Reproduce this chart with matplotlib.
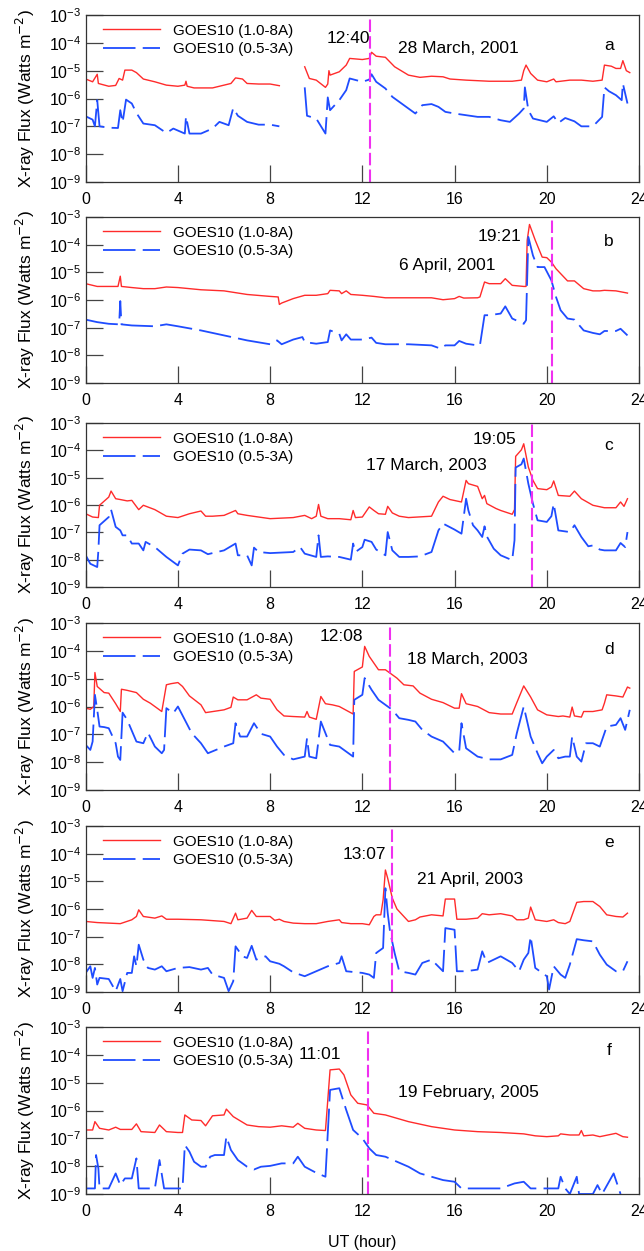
import numpy as np
import matplotlib.pyplot as plt
from matplotlib.ticker import NullLocator

plt.rcParams['font.family'] = ['Liberation Sans', 'DejaVu Sans']

# GOES10 X-ray flux, log10(W m^-2)
# nan marks a data gap

# panel a - 28 March 2001
a_t_long = [0.0, 0.3, 0.5, 0.55, 1.0, 1.3, 1.45, 1.6, 1.7, 2.0, 2.2, 2.5, 3.0, 3.5, 4.0, 4.3, 4.35, 4.4, 4.7, 5.5,
            6.0, 6.3, 6.5, 6.8, 7.0, 7.5, 8.0, 8.4, 8.9, 9.5, 9.7, 10.0, 10.4, 10.5, 10.55, 10.6, 11.0, 11.3, 11.45, 12.0,
            12.3, 12.4, 12.6, 13.0, 13.4, 14.0, 14.5, 15.0, 15.5, 15.8, 16.5, 17.5, 18.5, 18.9, 19.0, 19.1, 19.3, 19.6,
            20.0, 20.3, 20.4, 21.0, 21.5, 22.0, 22.4, 22.5, 22.8, 23.0, 23.2, 23.3, 23.45, 23.6]
a_long = [-5.30, -5.40, -5.13, -5.46, -5.56, -5.53, -5.28, -5.34, -4.98, -4.98, -5.07, -5.30, -5.40, -5.52, -5.56,
          -5.52, -5.38, -5.56, -5.62, -5.62, -5.52, -5.46, -5.26, -5.30, -5.46, -5.48, -5.48, -5.54, np.nan, -4.86,
          -5.28, -5.34, -5.60, -5.48, -5.00, -5.16, -5.04, -4.80, -4.56, -4.60, -4.56, -4.34, -4.48, -4.52, -4.86,
          -5.16, -5.24, -5.20, -5.22, -5.30, -5.34, -5.38, -5.38, -5.34, -5.00, -4.80, -5.10, -5.34, -5.40, -5.30,
          -5.40, -5.34, -5.34, -5.38, -5.34, -4.80, -4.84, -4.92, -4.92, -4.64, -5.00, -5.07]
a_t_short = [0.0, 0.3, 0.4, 0.5, 0.6, 1.0, 1.4, 1.5, 1.6, 1.75, 2.0, 2.2, 2.5, 3.0, 3.5, 3.8, 4.3, 4.35, 4.5, 5.0,
             5.5, 5.8, 6.2, 6.4, 6.6, 7.0, 7.5, 8.0, 8.4, 8.9, 9.5, 9.6, 10.0, 10.4, 10.5, 10.6, 11.0, 11.3, 11.45,
             12.0, 12.3, 12.4, 12.6, 13.0, 13.3, 13.6, 14.0, 14.3, 14.6, 15.0, 15.3, 15.6, 16.0, 16.5, 17.0, 17.5,
             18.0, 18.4, 18.8, 19.0, 19.05, 19.2, 19.4, 20.0, 20.3, 20.5, 20.8, 21.2, 21.5, 22.0, 22.4, 22.5, 22.7,
             23.0, 23.25, 23.3, 23.5]
a_short = [-6.64, -6.76, -7.00, -6.06, -7.00, -7.05, -7.06, -6.42, -6.86, -6.04, -6.18, -6.52, -6.90, -6.96, -7.24,
           -7.08, -7.26, -6.64, -7.26, -7.26, -7.08, -6.84, -6.96, -6.34, -6.62, -6.84, -6.94, -6.94, -7.00, np.nan,
           -5.60, -6.62, -6.72, -7.26, -5.96, -6.42, -6.06, -5.70, -5.28, -5.40, -5.32, -5.13, -5.40, -5.64, -5.94,
           -6.12, -6.36, -6.54, -6.24, -6.20, -6.30, -6.48, -6.54, -6.60, -6.66, -6.66, -6.78, -6.84, -6.54, -6.36,
           -5.60, -6.42, -6.72, -6.84, -6.64, -6.88, -6.70, -6.82, -7.00, -7.00, -6.66, -5.60, -5.74, -5.88, -6.06,
           -5.46, -6.18]

# panel b - 6 April 2001
b_t_long = [0.0, 0.5, 1.0, 1.4, 1.5, 1.55, 2.0, 2.5, 3.0, 3.5, 4.0, 5.0, 6.0, 7.0, 8.0, 8.35, 8.4, 8.5, 9.0, 9.5,
            10.0, 10.5, 10.6, 11.0, 11.1, 11.3, 11.5, 12.0, 12.5, 13.0, 14.0, 15.0, 15.5, 16.0, 16.2, 16.4, 17.0, 17.1,
            17.3, 17.5, 18.0, 18.2, 18.5, 19.0, 19.1, 19.15, 19.25, 19.5, 19.8, 20.0, 20.2, 20.4, 20.9, 21.2, 21.6,
            22.0, 22.3, 22.5, 23.0, 23.5]
b_long = [-5.41, -5.51, -5.51, -5.51, -5.14, -5.51, -5.55, -5.59, -5.59, -5.53, -5.55, -5.63, -5.67, -5.80, -5.87,
          -5.89, -6.16, -6.11, -5.95, -5.83, -5.83, -5.77, -5.65, -5.67, -5.77, -5.67, -5.80, -5.83, -5.87, -5.92,
          -5.92, -5.92, -5.99, -5.95, -5.87, -5.93, -5.92, -5.89, -5.35, -5.41, -5.41, -5.23, -5.47, -5.51, -5.51,
          -3.84, -3.27, -3.84, -4.45, -4.47, -4.63, -4.87, -5.31, -5.31, -5.59, -5.67, -5.67, -5.65, -5.67, -5.75]
b_t_short = [0.0, 0.5, 1.0, 1.45, 1.5, 1.55, 2.0, 3.0, 3.5, 4.0, 5.0, 6.0, 7.0, 8.0, 8.3, 8.5, 9.0, 9.4, 9.5, 10.0,
             10.5, 10.6, 11.0, 11.1, 11.3, 11.5, 12.0, 12.4, 12.6, 13.0, 14.0, 15.0, 15.4, 15.6, 16.0, 16.2, 16.5,
             17.0, 17.1, 17.3, 17.5, 18.0, 18.2, 18.5, 19.0, 19.1, 19.2, 19.4, 19.6, 19.9, 20.2, 20.4, 20.6, 20.9,
             21.2, 21.6, 22.0, 22.3, 22.5, 23.0, 23.2, 23.5]
b_short = [-6.71, -6.80, -6.86, -6.88, -6.04, -6.88, -6.92, -6.95, -6.88, -6.95, -7.10, -7.28, -7.46, -7.60, -7.46,
           -7.60, -7.43, -7.34, -7.52, -7.58, -7.52, -7.10, -7.22, -7.46, -7.24, -7.43, -7.43, -7.36, -7.55, -7.60,
           -7.60, -7.64, -7.76, -7.64, -7.64, -7.48, -7.58, -7.64, -7.64, -6.55, -6.55, -6.49, -6.23, -6.67, -6.86,
           -6.73, -3.72, -4.39, -4.81, -4.81, -5.29, -5.89, -6.37, -6.67, -6.71, -7.10, -7.19, -7.24, -7.12, -7.12,
           -7.04, -7.28]

# panel c - 17 March 2003
c_t_long = [0.0, 0.3, 0.55, 0.6, 1.0, 1.1, 1.3, 1.5, 1.8, 2.0, 2.3, 2.5, 3.0, 3.5, 4.0, 4.5, 5.0, 5.2, 5.5, 6.0,
            6.5, 6.6, 7.0, 7.5, 8.0, 9.0, 9.5, 9.8, 10.0, 10.1, 10.2, 10.5, 11.0, 11.5, 11.6, 11.7, 12.0, 12.3, 12.5,
            12.7, 13.0, 13.1, 13.3, 13.6, 14.0, 15.0, 15.3, 15.5, 15.8, 16.3, 16.5, 16.6, 17.0, 17.2, 17.3, 17.4,
            17.8, 18.0, 18.5, 18.6, 18.65, 18.9, 19.0, 19.2, 19.4, 19.6, 20.0, 20.2, 20.3, 20.5, 21.0, 21.2, 21.5,
            22.0, 22.5, 23.0, 23.2, 23.35, 23.5]
c_long = [-6.32, -6.44, -6.46, -6.01, -5.71, -5.49, -5.77, -5.80, -5.85, -5.83, -6.17, -6.01, -6.17, -6.41, -6.46,
          -6.32, -6.22, -6.41, -6.41, -6.38, -6.20, -6.32, -6.38, -6.44, -6.50, -6.46, -6.38, -6.50, -6.41, -5.98,
          -6.41, -6.50, -6.50, -6.54, -6.20, -6.46, -6.44, -6.07, -6.20, -6.32, -6.34, -6.05, -6.29, -6.41, -6.46,
          -6.41, -5.89, -5.68, -5.80, -5.89, -5.10, -5.22, -5.32, -5.77, -5.65, -5.95, -6.13, -6.20, -6.34, -6.17,
          -4.22, -3.98, -3.76, -4.61, -5.10, -5.40, -5.44, -5.34, -5.12, -5.65, -5.68, -5.49, -5.77, -6.01, -6.10,
          -6.10, -5.89, -6.05, -5.77]
c_t_short = [0.0, 0.2, 0.5, 0.55, 0.6, 1.0, 1.1, 1.3, 1.5, 1.6, 1.8, 2.0, 2.3, 2.5, 2.6, 3.0, 3.5, 4.0, 4.2, 4.5,
             5.0, 5.3, 6.0, 6.5, 6.6, 7.0, 7.2, 7.3, 7.5, 8.0, 9.0, 9.3, 9.5, 10.0, 10.1, 10.2, 10.5, 11.0, 11.5,
             11.6, 11.7, 12.0, 12.1, 12.4, 12.6, 13.0, 13.1, 13.3, 13.6, 14.0, 14.5, 15.0, 15.3, 15.5, 16.0, 16.3,
             16.5, 16.6, 16.8, 17.0, 17.2, 17.3, 17.4, 17.7, 18.0, 18.5, 18.6, 18.65, 18.9, 19.0, 19.2, 19.4, 19.6,
             20.0, 20.2, 20.3, 20.5, 21.0, 21.2, 21.5, 21.8, 22.0, 22.3, 22.5, 23.0, 23.2, 23.4, 23.5]
c_short = [-7.84, -8.15, -8.27, -7.66, -6.74, -6.44, -6.17, -6.80, -6.93, -7.11, -7.11, -7.41, -7.41, -7.66, -7.35,
           -7.54, -7.90, -8.21, -7.78, -7.63, -7.66, -7.80, -7.66, -7.41, -7.84, -7.84, -8.21, -7.56, -7.72, -7.76,
           -7.72, -7.54, -7.78, -7.90, -7.11, -7.90, -7.88, -7.90, -8.00, -7.41, -7.72, -7.54, -7.27, -7.35, -7.63,
           -7.84, -6.99, -7.66, -7.90, -7.90, -7.88, -7.72, -6.93, -6.68, -6.90, -7.05, -5.77, -6.20, -6.74, -6.93,
           -7.17, -6.78, -7.15, -7.60, -7.84, -8.02, -7.29, -4.63, -4.51, -4.30, -5.22, -5.95, -6.56, -6.62, -6.41,
           -5.95, -6.93, -6.99, -6.74, -7.17, -7.51, -7.48, -7.63, -7.66, -7.66, -7.39, -7.54, -6.99]

# panel d - 18 March 2003
d_t_long = [0.0, 0.2, 0.35, 0.4, 0.5, 0.8, 1.0, 1.3, 1.5, 1.55, 1.8, 2.2, 2.5, 2.8, 3.0, 3.3, 3.5, 3.7, 4.0, 4.2,
            4.5, 5.0, 5.2, 6.0, 6.3, 6.4, 6.6, 7.0, 7.4, 7.6, 8.0, 8.3, 8.6, 9.0, 9.5, 9.6, 9.7, 10.0, 10.2, 10.4,
            10.7, 11.0, 11.4, 11.6, 11.65, 12.0, 12.1, 12.3, 12.7, 13.0, 13.5, 13.8, 14.2, 14.5, 15.0, 15.5, 16.0,
            16.2, 16.3, 16.5, 17.0, 17.5, 18.0, 18.5, 18.7, 19.0, 19.3, 19.6, 20.0, 20.5, 20.7, 21.0, 21.1, 21.2,
            21.5, 21.6, 22.0, 22.4, 22.5, 22.6, 23.0, 23.3, 23.5, 23.6]
d_long = [-6.06, -6.10, -6.00, -4.78, -5.28, -5.50, -5.52, -5.90, -6.18, -5.38, -5.42, -5.50, -5.74, -5.88, -6.00,
          -6.18, -5.22, -5.18, -5.14, -5.28, -5.62, -5.94, -6.22, -6.12, -6.03, -5.66, -5.76, -5.76, -5.58, -5.70,
          -5.74, -6.12, -6.34, -6.36, -6.38, -6.18, -6.38, -6.46, -5.64, -5.90, -5.94, -6.00, -6.18, -6.27, -4.74,
          -4.58, -3.84, -4.20, -4.68, -4.68, -4.98, -5.22, -5.26, -5.52, -5.74, -5.86, -6.06, -6.06, -5.54, -5.90,
          -6.00, -6.22, -6.27, -6.27, -5.86, -5.26, -5.66, -6.12, -6.30, -6.36, -6.34, -6.38, -6.02, -6.34, -6.38,
          -6.18, -6.18, -6.12, -5.88, -5.58, -5.62, -5.66, -5.30, -5.34]
d_t_short = [0.0, 0.2, 0.3, 0.4, 0.5, 0.6, 0.8, 1.0, 1.3, 1.4, 1.5, 1.6, 1.8, 2.2, 2.5, 2.7, 3.0, 3.3, 3.4, 3.5,
             3.8, 4.0, 4.3, 4.6, 5.0, 5.3, 6.0, 6.4, 6.5, 6.7, 7.0, 7.3, 7.6, 8.0, 8.3, 8.6, 9.0, 9.5, 9.6, 9.7,
             10.0, 10.2, 10.4, 10.6, 11.0, 11.4, 11.6, 11.65, 12.0, 12.1, 12.4, 12.7, 13.0, 13.3, 13.6, 14.0, 14.3,
             14.6, 15.0, 15.5, 16.0, 16.2, 16.3, 16.5, 17.0, 17.5, 18.0, 18.5, 18.7, 19.0, 19.3, 19.6, 19.8, 20.0,
             20.3, 20.5, 20.8, 21.0, 21.1, 21.3, 21.5, 21.7, 22.0, 22.3, 22.6, 23.0, 23.2, 23.4, 23.6]
d_short = [-7.38, -7.56, -7.26, -5.58, -6.12, -6.72, -6.74, -6.78, -7.32, -7.80, -7.92, -6.22, -6.48, -7.26, -7.32,
           -6.94, -7.44, -7.68, -7.56, -6.06, -6.24, -6.00, -6.48, -6.96, -7.32, -7.68, -7.44, -7.32, -6.60, -7.08,
           -7.08, -6.60, -6.98, -7.08, -7.44, -7.74, -7.90, -7.80, -7.14, -7.80, -7.86, -6.54, -6.96, -7.38, -7.44,
           -7.68, -7.80, -5.76, -5.58, -4.98, -5.40, -5.76, -5.94, -6.12, -6.42, -6.48, -6.54, -6.84, -7.08, -7.26,
           -7.68, -7.62, -6.60, -7.50, -7.80, -7.90, -7.90, -7.74, -6.96, -6.00, -7.08, -7.68, -8.04, -7.80, -7.56,
           -7.86, -7.80, -7.80, -7.08, -7.80, -7.98, -7.32, -7.32, -7.44, -6.72, -6.66, -6.42, -6.84, -6.12]

# panel e - 21 April 2003
e_t_long = [0.0, 0.5, 1.0, 1.5, 2.0, 2.2, 2.3, 2.5, 3.0, 3.3, 3.5, 4.0, 5.0, 6.0, 6.3, 6.5, 6.6, 7.0, 7.2, 7.4,
            8.0, 8.2, 8.4, 8.6, 9.0, 9.5, 10.0, 10.5, 11.0, 11.1, 11.5, 12.0, 12.3, 12.5, 12.6, 12.8, 12.9, 13.0,
            13.1, 13.3, 13.5, 13.8, 14.0, 14.3, 14.5, 15.0, 15.5, 15.6, 16.0, 16.1, 16.5, 17.0, 17.2, 17.5, 18.0,
            18.5, 18.7, 19.0, 19.2, 19.3, 19.5, 20.0, 20.3, 20.5, 20.8, 21.0, 21.3, 21.6, 22.0, 22.3, 22.6, 23.0,
            23.3, 23.5]
e_long = [-6.45, -6.49, -6.51, -6.53, -6.39, -6.27, -6.03, -6.27, -6.33, -6.25, -6.37, -6.37, -6.39, -6.45, -6.53,
          -6.15, -6.39, -6.33, -6.05, -6.27, -6.27, -6.41, -6.37, -6.45, -6.51, -6.53, -6.53, -6.45, -6.39, -6.49,
          -6.53, -6.53, -6.57, -6.27, -6.21, -6.21, -5.67, -4.59, -4.89, -5.61, -6.00, -6.27, -6.45, -6.39, -6.29,
          -6.21, -6.25, -5.64, -5.64, -6.37, -6.37, -6.33, -6.17, -6.21, -6.17, -6.25, -6.39, -6.39, -6.33, -5.93,
          -6.39, -6.45, -6.39, -6.49, -6.53, -6.45, -5.76, -5.73, -5.73, -5.91, -6.21, -6.27, -6.29, -6.15]
e_t_short = [0.0, 0.2, 0.3, 0.4, 0.5, 0.6, 1.0, 1.3, 1.5, 1.6, 1.8, 2.0, 2.1, 2.2, 2.3, 2.5, 2.7, 3.0, 3.3, 3.5,
             4.0, 4.5, 5.0, 5.3, 5.5, 6.0, 6.2, 6.4, 6.5, 6.8, 7.0, 7.2, 7.4, 7.8, 8.0, 8.4, 8.6, 9.0, 9.5, 10.0,
             10.5, 11.0, 11.1, 11.3, 12.0, 12.3, 12.5, 12.6, 12.9, 13.0, 13.1, 13.2, 13.4, 13.6, 14.0, 14.3, 14.6,
             15.0, 15.5, 15.6, 16.0, 16.1, 16.5, 17.0, 17.2, 17.4, 18.0, 18.5, 18.8, 19.0, 19.2, 19.3, 19.5, 20.0,
             20.1, 20.3, 20.6, 20.8, 21.0, 21.3, 21.6, 22.0, 22.3, 22.6, 23.0, 23.3, 23.5]
e_short = [-8.31, -8.07, -8.49, -8.13, -8.73, -8.49, -8.53, -8.97, -8.53, -8.97, -8.31, -8.31, -7.71, -8.07, -7.29,
           -7.83, -8.13, -8.19, -8.07, -8.25, -8.13, -8.10, -8.19, -8.13, -8.37, -8.49, -8.97, -8.61, -7.35, -7.71,
           -7.77, -7.33, -7.83, -7.71, -7.89, -7.98, -8.07, -8.29, -8.43, -8.25, -8.07, -7.95, -7.71, -8.25, -8.31,
           -8.37, -8.49, -7.59, -7.41, -5.25, -6.15, -6.81, -7.59, -8.25, -8.31, -8.37, -7.95, -7.83, -8.25, -6.69,
           -6.75, -8.25, -8.25, -8.19, -7.53, -7.95, -7.71, -7.95, -8.25, -7.83, -7.59, -6.99, -8.13, -8.43, -8.91,
           -8.07, -8.37, -8.49, -8.01, -7.09, -7.13, -7.17, -7.65, -8.01, -8.25, -8.25, -7.89]

# panel f - 19 February 2005
f_t_long = [0.0, 0.3, 0.4, 0.6, 1.0, 1.3, 1.5, 2.0, 2.2, 2.4, 3.0, 3.2, 3.5, 4.0, 4.2, 4.3, 4.6, 5.0, 5.2, 5.5,
            6.0, 6.1, 6.4, 7.0, 7.5, 8.0, 8.5, 9.0, 9.2, 9.5, 10.0, 10.4, 10.6, 11.0, 11.2, 11.5, 11.8, 12.2, 12.5,
            13.0, 13.5, 14.0, 15.0, 16.0, 17.0, 18.0, 19.0, 19.5, 20.0, 20.5, 20.6, 21.0, 21.4, 21.5, 21.6, 22.0,
            22.3, 23.0, 23.3, 23.5]
f_long = [-6.70, -6.70, -6.40, -6.64, -6.70, -6.60, -6.68, -6.68, -6.48, -6.76, -6.79, -6.52, -6.76, -6.79, -6.79,
          -6.16, -6.34, -6.36, -6.55, -6.19, -6.16, -5.95, -6.22, -6.52, -6.58, -6.60, -6.55, -6.60, -6.46, -6.64,
          -6.70, -6.72, -4.54, -4.51, -4.72, -5.44, -5.74, -5.80, -6.10, -6.16, -6.28, -6.40, -6.58, -6.70, -6.76,
          -6.79, -6.84, -6.91, -6.94, -6.91, -6.84, -6.88, -6.88, -6.72, -6.91, -6.88, -6.94, -6.82, -6.94, -6.96]
f_t_short = [0.0, 0.4, 0.45, 0.55, 0.6, 1.0, 1.3, 1.5, 1.7, 2.0, 2.2, 2.3, 3.0, 3.2, 3.4, 4.0, 4.2, 4.3, 4.5, 4.7,
             5.0, 5.2, 5.4, 5.6, 6.0, 6.1, 6.3, 6.6, 7.0, 7.3, 7.6, 8.0, 8.5, 9.0, 9.2, 9.5, 10.0, 10.4, 10.6, 11.0,
             11.3, 11.6, 12.0, 12.3, 12.6, 13.0, 13.5, 14.0, 14.5, 15.0, 15.5, 16.0, 16.3, 17.0, 18.0, 18.6, 19.0,
             19.3, 20.0, 20.5, 20.6, 20.8, 21.0, 21.3, 21.4, 22.0, 22.2, 22.4, 22.9, 23.2]
f_short = [-8.80, -8.80, -7.60, -8.08, -8.80, -8.80, -8.26, -8.68, -8.44, -8.44, -7.72, -8.80, -8.80, -7.78, -8.80,
           -8.80, -8.80, -7.24, -7.48, -7.84, -8.02, -8.02, -7.66, -7.60, -7.60, -6.94, -7.42, -7.78, -8.02, -8.12,
           -8.02, -7.99, -7.90, -7.90, -7.66, -8.02, -8.24, -8.38, -5.26, -5.20, -5.98, -6.70, -7.00, -7.36, -7.60,
           -7.66, -7.84, -8.02, -8.26, -8.38, -8.50, -8.56, -8.80, -8.80, -8.80, -8.62, -8.56, -8.80, -8.80, -8.80,
           -8.38, -8.80, -9.00, -8.38, -9.00, -9.00, -8.68, -9.00, -8.26, -9.00]

panel_letters = ['a', 'b', 'c', 'd', 'e', 'f']
dates = ['28 March, 2001', '6 April, 2001', '17 March, 2003', '18 March, 2003', '21 April, 2003',
         '19 February, 2005']
peak_times = ['12:40', '19:21', '19:05', '12:08', '13:07', '11:01']
marker_hours = [12.33, 20.21, 19.38, 13.18, 13.30, 12.23]

long_series = [(a_t_long, a_long), (b_t_long, b_long), (c_t_long, c_long),
               (d_t_long, d_long), (e_t_long, e_long), (f_t_long, f_long)]
short_series = [(a_t_short, a_short), (b_t_short, b_short), (c_t_short, c_short),
                (d_t_short, d_short), (e_t_short, e_short), (f_t_short, f_short)]

# text placement in axes fractions: (time label, date label, panel letter)
text_pos = [
    ((0.475, 0.86), (0.674, 0.80), (0.946, 0.82)),
    ((0.747, 0.884), (0.653, 0.709), (0.946, 0.855)),
    ((0.739, 0.898), (0.616, 0.742), (0.946, 0.864)),
    ((0.462, 0.92), (0.689, 0.78), (0.946, 0.84)),
    ((0.504, 0.826), (0.694, 0.68), (0.946, 0.90)),
    ((0.4225, 0.834), (0.691, 0.608), (0.946, 0.86)),
]

W, H = 644, 1251
tops = [15, 217, 423, 623, 826, 1027]
bottoms = [182, 383, 587, 790, 992, 1194]
left, right = 85.7, 639

red = '#ff2b2b'
blue = '#1f4cff'
magenta = '#f030f0'

fig = plt.figure(figsize=(W / 100, H / 100), dpi=100)

for i in range(6):
    ax = fig.add_axes([left / W, 1 - bottoms[i] / H, (right - left) / W, (bottoms[i] - tops[i]) / H])
    t1, y1 = long_series[i]
    t2, y2 = short_series[i]
    ax.plot(t1, 10 ** np.array(y1), color=red, lw=1.0, label='GOES10 (1.0-8A)')
    ax.plot(t2, 10 ** np.array(y2), color=blue, lw=1.3, dashes=[18, 4], label='GOES10 (0.5-3A)')
    ax.axvline(marker_hours[i], color=magenta, lw=1.5, dashes=[6, 2])

    ax.set_yscale('log')
    ax.set_ylim(1e-9, 1e-3)
    ax.set_xlim(0, 24)
    ax.set_xticks(range(0, 25, 4))
    ax.set_yticks([10.0 ** k for k in range(-9, -2)])
    ax.set_yticklabels([r'$\mathregular{10^{%d}}$' % k for k in range(-9, -2)])
    ax.yaxis.set_minor_locator(NullLocator())
    ax.tick_params(direction='in', length=12, width=0.9, color='#444444', labelsize=11.5)
    ax.tick_params(axis='x', pad=7)
    ax.tick_params(axis='y', pad=3)
    for s in ax.spines.values():
        s.set_color('#333333')
        s.set_linewidth(0.9)

    ax.set_ylabel('X-ray Flux (Watts m$^{-2}$)', fontsize=12.5)
    ax.yaxis.set_label_coords(-0.088, 0.5)

    ax.legend(loc='upper left', bbox_to_anchor=(0.032, 0.948), frameon=False, fontsize=11,
              handlelength=3.7, handletextpad=0.85, labelspacing=0.3, borderpad=0, borderaxespad=0)

    tp, dp, lp = text_pos[i]
    ax.text(tp[0], tp[1], peak_times[i], transform=ax.transAxes, fontsize=12.5, ha='center', va='center')
    ax.text(dp[0], dp[1], dates[i], transform=ax.transAxes, fontsize=12.5, ha='center', va='center')
    ax.text(lp[0], lp[1], panel_letters[i], transform=ax.transAxes, fontsize=12.5, ha='center', va='center')

    if i == 5:
        ax.set_xlabel('UT (hour)', fontsize=11.5, labelpad=12)

fig.savefig('out.png', dpi=100)
